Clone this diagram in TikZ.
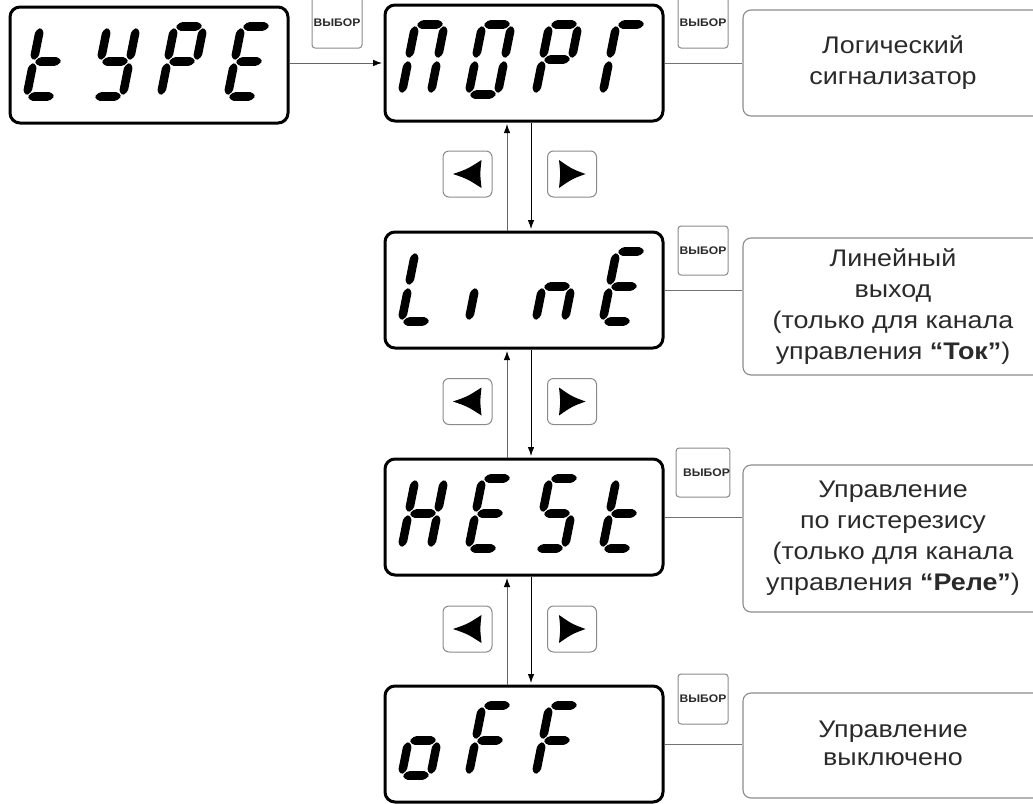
\documentclass[tikz,border=0pt]{standalone}
\usepackage{fontspec}
\setmainfont{Liberation Sans}[FakeStretch=1.12]
\newfontfamily\btnfont{Liberation Sans}[FakeStretch=1.1]
\usetikzlibrary{arrows.meta}
\definecolor{frame}{HTML}{8A8A8A}
\definecolor{txt}{HTML}{2A2A2A}
\newcommand\SSa{\fill (1,-70) -- (5.3,-74.3) -- (23.7,-74.3) -- (28,-70) -- (23.7,-65.7) -- (5.3,-65.7) -- cycle;}
\newcommand\SSg{\fill (1,-35) -- (5.3,-39.3) -- (23.7,-39.3) -- (28,-35) -- (23.7,-30.7) -- (5.3,-30.7) -- cycle;}
\newcommand\SSd{\fill (1,0) -- (5.3,-4.3) -- (23.7,-4.3) -- (28,0) -- (23.7,4.3) -- (5.3,4.3) -- cycle;}
\newcommand\SSf{\fill (0,-69) -- (4.3,-64.7) -- (4.3,-40.3) -- (0,-36) -- (-4.3,-40.3) -- (-4.3,-64.7) -- cycle;}
\newcommand\SSb{\fill (29,-69) -- (33.3,-64.7) -- (33.3,-40.3) -- (29,-36) -- (24.7,-40.3) -- (24.7,-64.7) -- cycle;}
\newcommand\SSe{\fill (0,-34) -- (4.3,-29.7) -- (4.3,-5.3) -- (0,-1) -- (-4.3,-5.3) -- (-4.3,-29.7) -- cycle;}
\newcommand\SSc{\fill (29,-34) -- (33.3,-29.7) -- (33.3,-5.3) -- (29,-1) -- (24.7,-5.3) -- (24.7,-29.7) -- cycle;}
\newcommand\dgt[3]{\begin{scope}[shift={(#1.north west)},shift={(18+67*#2,91)},xslant=0.2,rounded corners=1.5pt]\foreach \s in {#3}{\csname SS\s\endcsname}\end{scope}}
\begin{document}
\begin{tikzpicture}[x=1pt,y=-1pt,
  disp/.style={draw=black,line width=3pt,rounded corners=10pt,minimum width=278pt,minimum height=116pt,inner sep=0pt},
  note/.style={draw=frame,line width=1.1pt,rounded corners=8pt,minimum width=300pt,inner sep=0pt,align=center,text=txt,font=\fontsize{24}{31}\selectfont},
  vbtn/.style={draw=frame,line width=1pt,rounded corners=3pt,minimum width=50pt,inner sep=0pt,text=txt,font=\btnfont\fontsize{11}{12}\selectfont\bfseries},
  abtn/.style={draw=frame,line width=1pt,rounded corners=6pt,minimum width=49pt,minimum height=46pt,inner sep=0pt},
  upar/.style={line width=0.8pt,draw=black!60,-{Latex[length=9pt,width=6.5pt,color=black]}},
  dnar/.style={line width=0.8pt,draw=black,-{Latex[length=9pt,width=6.5pt,color=black]}},
  link/.style={line width=0.9pt,draw=black!55}]
\path[use as bounding box,clip] (0,0) rectangle (1033,803);
% displays
\node[disp] (d1) at (149,65) {};
\node[disp] (d2) at (524,63) {};
\node[disp] (d3) at (524,290) {};
\node[disp] (d4) at (524,517) {};
\node[disp] (d5) at (524,744) {};
% digits
\dgt{d1}{0}{f,e,d,g}\dgt{d1}{1}{b,c,d,f,g}\dgt{d1}{2}{a,b,e,f,g}\dgt{d1}{3}{a,d,e,f,g}
\dgt{d2}{0}{a,b,c,e,f}\dgt{d2}{1}{a,b,c,d,e,f}\dgt{d2}{2}{a,b,e,f,g}\dgt{d2}{3}{a,e,f}
\dgt{d3}{0}{d,e,f}\dgt{d3}{1}{e}\dgt{d3}{2}{c,e,g}\dgt{d3}{3}{a,d,e,f,g}
\dgt{d4}{0}{b,c,e,f,g}\dgt{d4}{1}{a,d,e,f,g}\dgt{d4}{2}{a,c,d,f,g}\dgt{d4}{3}{f,e,d,g}
\dgt{d5}{0}{c,d,e,g}\dgt{d5}{1}{a,e,f,g}\dgt{d5}{2}{a,e,f,g}
% select buttons
\node[vbtn,minimum height=51pt] (b1) at (337,22.5) {ВЫБОР};
\node[vbtn,minimum height=51pt] (b2) at (703,22.5) {ВЫБОР};
\node[vbtn,minimum height=49pt] (b3) at (703,250.5) {ВЫБОР};
\node[vbtn,minimum height=49pt] (b4) at (703,472.5) {\hspace*{7pt}ВЫБОР};
\node[vbtn,minimum height=50pt] (b5) at (703,699) {ВЫБОР};
% description boxes
\node[note,minimum height=106pt] (t1) at (893,63) {Логический\\сигнализатор};
\node[note,minimum height=137pt] (t2) at (893,306.5) {Линейный\\выход\\(только для канала\\управления \textbf{“Ток”})};
\node[note,minimum height=147pt] (t3) at (893,538.5) {Управление\\по гистерезису\\(только для канала\\управления \textbf{“Реле”})};
\node[note,minimum height=105pt] (t4) at (893,745.5) {\raisebox{4pt}{\begin{tabular}{@{}c@{}}Управление\\[-3pt]выключено\end{tabular}}};
% links to descriptions
\draw[link] (d2.east) -- (d2.east -| t1.west);
\draw[link] (d3.east) -- (d3.east -| t2.west);
\draw[link] (d4.east) -- (d4.east -| t3.west);
\draw[link] (d5.east) -- (d5.east -| t4.west);
% horizontal arrow
\draw[upar,shorten >=1.5pt] ([yshift=2pt]d1.east) -- ([yshift=2pt]d1.east -| d2.west);
% vertical arrows
\draw[upar,shorten >=1.5pt] ([xshift=-17pt]d3.north) -- ([xshift=-17pt]d2.south);
\draw[dnar,shorten >=1.5pt] ([xshift=7pt]d2.south) -- ([xshift=7pt]d3.north);
\draw[upar,shorten >=1.5pt] ([xshift=-17pt]d4.north) -- ([xshift=-17pt]d3.south);
\draw[dnar,shorten >=1.5pt] ([xshift=7pt]d3.south) -- ([xshift=7pt]d4.north);
\draw[upar,shorten >=1.5pt] ([xshift=-17pt]d5.north) -- ([xshift=-17pt]d4.south);
\draw[dnar,shorten >=1.5pt] ([xshift=7pt]d4.south) -- ([xshift=7pt]d5.north);
% arrow buttons
\foreach \n/\y in {1/174,2/401.5,3/629}{
  \node[abtn] (lb\n) at (467.5,\y) {};
  \node[abtn] (rb\n) at (572,\y) {};
  \fill[shift={(lb\n.center)}] (-14.5,0) .. controls (0,-5) .. (14,-14) .. controls (12.5,0) .. (14,14) .. controls (0,5) .. cycle;
  \fill[shift={(rb\n.center)}] (13.5,0) .. controls (0,-5) .. (-13,-14) .. controls (-11.5,0) .. (-13,14) .. controls (0,5) .. cycle;
}
\end{tikzpicture}
\end{document}
